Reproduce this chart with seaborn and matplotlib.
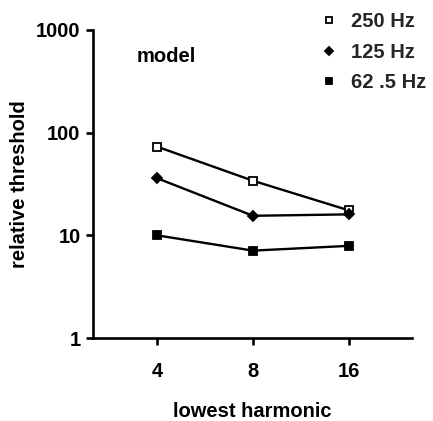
import matplotlib
matplotlib.use("Agg")
import matplotlib.pyplot as plt
import seaborn as sns
import pandas as pd
from matplotlib.ticker import FixedLocator, NullLocator, FixedFormatter

sns.set_theme(style="ticks")
plt.rcParams['font.family'] = ['Liberation Sans', 'DejaVu Sans']
plt.rcParams['font.weight'] = 'bold'

harmonics = [4, 8, 16]
series_names = ["250 Hz", "125 Hz", "62 .5 Hz"]
thr_250 = [73, 34, 17.5]
thr_125 = [36, 15.5, 16]
thr_62 = [10, 7.1, 7.9]
x_ticklabels = ["4", "8", "16"]
y_ticks = [1, 10, 100, 1000]
y_ticklabels = ["1", "10", "100", "1000"]

df = pd.DataFrame({
    "harmonic": harmonics * 3,
    "threshold": thr_250 + thr_125 + thr_62,
    "series": [series_names[0]] * 3 + [series_names[1]] * 3 + [series_names[2]] * 3,
})

FS = 14.5

fig = plt.figure(figsize=(4.33, 4.21), dpi=100)
ax = fig.add_axes([0.215, 0.197, 0.736, 0.732])

styles = {
    "250 Hz": dict(marker="s", mfc="white", ms=6),
    "125 Hz": dict(marker="D", mfc="black", ms=5),
    "62 .5 Hz": dict(marker="s", mfc="black", ms=6),
}
for name in series_names:
    sub = df[df["series"] == name]
    st = styles[name]
    sns.lineplot(data=sub, x="harmonic", y="threshold", ax=ax, color="black",
                 lw=1.7, marker=st["marker"], markerfacecolor=st["mfc"],
                 markeredgecolor="black", markeredgewidth=1.3,
                 markersize=st["ms"], label=name, legend=False)

ax.set_xscale("log", base=2)
ax.set_yscale("log")
ax.set_xlim(2.52, 25.2)
ax.set_ylim(1, 1000)
ax.xaxis.set_major_locator(FixedLocator(harmonics))
ax.xaxis.set_major_formatter(FixedFormatter(x_ticklabels))
ax.xaxis.set_minor_locator(NullLocator())
ax.yaxis.set_major_locator(FixedLocator(y_ticks))
ax.yaxis.set_major_formatter(FixedFormatter(y_ticklabels))
ax.yaxis.set_minor_locator(NullLocator())

for s in ["top", "right"]:
    ax.spines[s].set_visible(False)
for s in ["left", "bottom"]:
    ax.spines[s].set_linewidth(1.9)
    ax.spines[s].set_color("black")
ax.tick_params(axis="both", direction="out", length=5, width=1.9, color="black",
               labelsize=FS, labelcolor="black")
ax.tick_params(axis="x", pad=12)
ax.tick_params(axis="y", pad=4)
for lab in ax.get_xticklabels() + ax.get_yticklabels():
    lab.set_fontweight("bold")

ax.set_xlabel("lowest harmonic", fontsize=FS, fontweight="bold", labelpad=15, color="black")
ax.set_ylabel("relative threshold", fontsize=FS, fontweight="bold", labelpad=5, color="black")

ax.text(137 / 433, 1 - 57 / 421, "model", transform=fig.transFigure, fontsize=FS,
        fontweight="bold", ha="left", va="center", color="black")

handles, labels = ax.get_legend_handles_labels()
leg = fig.legend(handles, labels, loc="upper left", bbox_to_anchor=(329 / 433, 1 - 12 / 421),
                 frameon=False, handlelength=0, handletextpad=1.1, labelspacing=0.58,
                 prop=dict(size=FS, weight="bold"), markerscale=0.8, borderpad=0,
                 borderaxespad=0)

fig.savefig("out.png", dpi=100, facecolor="white")
